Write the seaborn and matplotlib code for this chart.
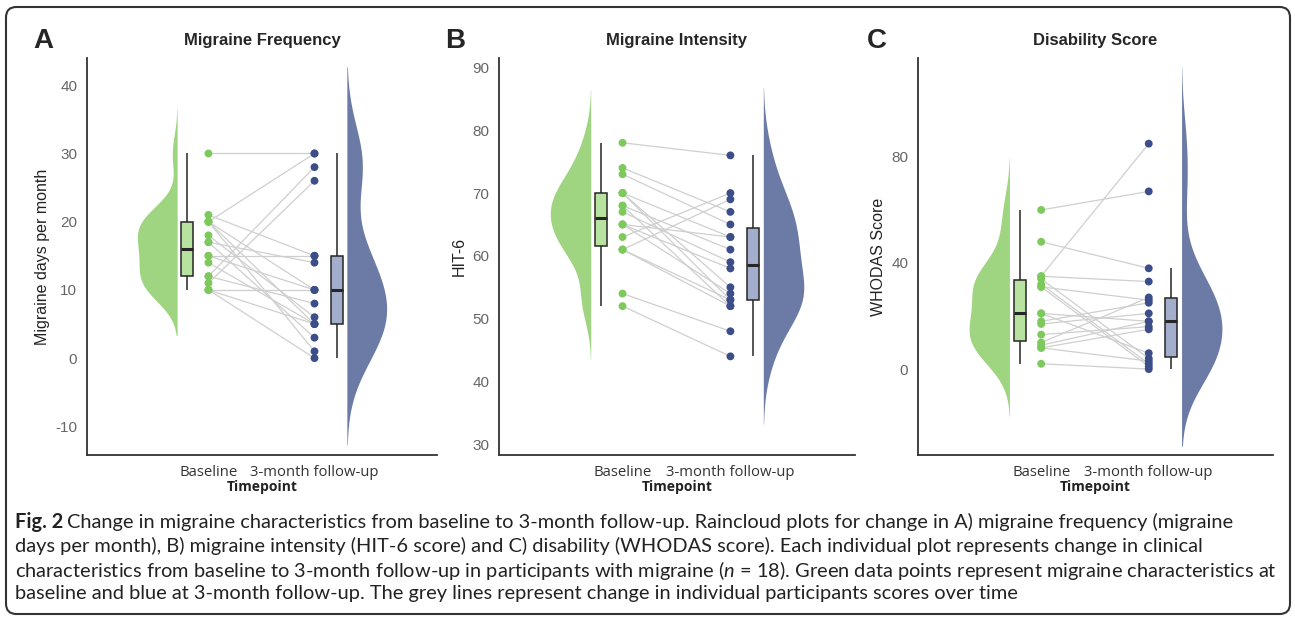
import numpy as np
import pandas as pd
import matplotlib
matplotlib.use("Agg")
import matplotlib.pyplot as plt
from matplotlib.patches import FancyBboxPatch
import seaborn as sns

sns.set_style("white")
plt.rcParams['font.family'] = ['Liberation Sans', 'DejaVu Sans']
plt.rcParams['mathtext.fontset'] = 'custom'
plt.rcParams['mathtext.rm'] = 'Lato'
plt.rcParams['mathtext.it'] = 'Lato:italic'
plt.rcParams['mathtext.bf'] = 'Lato:bold'

timepoints = ['Baseline', '3-month follow-up']

# participant-wise scores (same order in baseline and follow-up lists)
freq_base = [30, 20, 12, 11, 21, 20, 20, 20, 18, 17, 17, 15, 15, 14, 12, 10, 10, 10]
freq_follow = [30, 30, 28, 26, 15, 5, 1, 10, 6, 14, 3, 15, 10, 5, 8, 5, 0, 10]

hit_base = [78, 74, 73, 70, 70, 70, 68, 68, 67, 65, 65, 65, 63, 61, 61, 61, 54, 52]
hit_follow = [76, 67, 65, 63, 55, 53, 61, 52, 59, 63, 54, 58, 70, 69, 53, 52, 48, 44]

whodas_base = [60, 48, 35, 35, 34, 32, 31, 31, 21, 21, 18, 17, 13, 10, 9, 8, 8, 2]
whodas_follow = [67, 38, 85, 33, 4, 2, 1, 26, 18, 6, 25, 21, 16, 27, 18, 15, 3, 0]

panels = [
    dict(letter='A', title='Migraine Frequency', ylabel='Migraine days per month',
         base=freq_base, follow=freq_follow, ylim=(-14.2, 44), yticks=[-10, 0, 10, 20, 30, 40]),
    dict(letter='B', title='Migraine Intensity', ylabel='HIT-6',
         base=hit_base, follow=hit_follow, ylim=(28.3, 91.5), yticks=[30, 40, 50, 60, 70, 80, 90]),
    dict(letter='C', title='Disability Score', ylabel='WHODAS Score',
         base=whodas_base, follow=whodas_follow, ylim=(-32.4, 117.3), yticks=[0, 40, 80]),
]

violin_pal = {'Baseline': '#9fd480', '3-month follow-up': '#6c7ba5'}
box_pal = {'Baseline': '#b8e2a0', '3-month follow-up': '#a3aecd'}
dot_pal = {'Baseline': '#7dc95c', '3-month follow-up': '#3c4e8a'}

# x placement: dots at 1 / 2, boxes beside them, flat side of each half violin
# at 0.705 / 2.305 (seaborn puts the flat edge half a width away from its position)
point_x = {'Baseline': 1.0, '3-month follow-up': 2.0}
half_w = 0.375
violin_x = {'Baseline': 0.705 - half_w / 2, '3-month follow-up': 2.305 + half_w / 2}
box_x = {'Baseline': 0.80, '3-month follow-up': 2.21}
violin_width = half_w / (violin_x['3-month follow-up'] - violin_x['Baseline'])


def long_frame(base, follow):
    n = len(base)
    df = pd.DataFrame({
        'id': list(range(n)) * 2,
        'time': ['Baseline'] * n + ['3-month follow-up'] * n,
        'value': list(base) + list(follow),
    })
    df['x'] = df['time'].map(point_x)
    df['vpos'] = df['time'].map(violin_x)
    df['bpos'] = df['time'].map(box_x)
    return df


W, H = 1295, 622
fig = plt.figure(figsize=(W / 100, H / 100), dpi=100)

lefts = [87, 499, 918]
widths = [350, 356, 355]
top, bottom = 58, 455
letter_x = [43, 455, 877]

for p, left, width, lx in zip(panels, lefts, widths, letter_x):
    ax = fig.add_axes([left / W, 1 - bottom / H, width / W, (bottom - top) / H])
    df = long_frame(p['base'], p['follow'])

    sns.violinplot(data=df, x='vpos', y='value', hue='time', hue_order=timepoints,
                   palette=violin_pal, saturation=1, split=True, inner=None,
                   native_scale=True, density_norm='width', bw_adjust=0.95, cut=2.4,
                   width=violin_width, linewidth=0, legend=False, ax=ax)
    sns.boxplot(data=df, x='bpos', y='value', hue='time', hue_order=timepoints,
                palette=box_pal, saturation=1, native_scale=True, width=0.078,
                showfliers=False, linecolor='#262626', linewidth=1.1,
                medianprops=dict(linewidth=2.2), capprops=dict(visible=False),
                legend=False, ax=ax)
    sns.lineplot(data=df, x='x', y='value', units='id', estimator=None,
                 color='#cfcfcf', linewidth=0.9, legend=False, ax=ax, zorder=3)
    sns.scatterplot(data=df, x='x', y='value', hue='time', hue_order=timepoints,
                    palette=dot_pal, s=32, linewidth=0, legend=False, ax=ax, zorder=4)

    ax.set_xlim(-0.145, 3.155)
    ax.set_ylim(*p['ylim'])
    ax.set_xticks([1, 2])
    ax.set_xticklabels(timepoints, fontfamily='Open Sans', fontsize=10.7, color='#333333')
    ax.set_yticks(p['yticks'])
    ax.set_yticklabels([str(t) for t in p['yticks']], fontsize=11, color='#666666')
    ax.set_xlabel('Timepoint', fontfamily='Open Sans', fontweight='bold', fontsize=10,
                  color='#222222', labelpad=0)
    ax.set_ylabel(p['ylabel'], fontsize=11.5, color='#222222', labelpad=4)
    ax.set_title(p['title'], fontweight='bold', fontsize=12, pad=9)
    ax.tick_params(length=4, width=1, color='#333333', pad=3)
    sns.despine(ax=ax)
    for s in ('left', 'bottom'):
        ax.spines[s].set_color('#333333')
        ax.spines[s].set_linewidth(1.3)

    fig.text(lx / W, 1 - 41 / H, p['letter'], fontsize=20, fontweight='bold',
             ha='center', va='center')

caption = [
    "Change in migraine characteristics from baseline to 3-month follow-up. "
    "Raincloud plots for change in A) migraine frequency (migraine",
    "days per month), B) migraine intensity (HIT-6 score) and C) disability (WHODAS score). "
    "Each individual plot represents change in clinical",
    r"characteristics from baseline to 3-month follow-up in participants with migraine "
    r"($\mathit{n}$ = 18). Green data points represent migraine characteristics at",
    "baseline and blue at 3-month follow-up. The grey lines represent change in individual "
    "participants scores over time",
]
cap_size = 14.4
renderer = fig.canvas.get_renderer()
fig_label = fig.text(15 / W, 1 - 522 / H, 'Fig. 2', fontfamily='Lato', fontweight='bold',
                     fontsize=cap_size, color='#222222', ha='left', va='center')
label_w = fig_label.get_window_extent(renderer).width
for i, line in enumerate(caption):
    x0 = 15 + (label_w + 4 if i == 0 else 0)
    fig.text(x0 / W, 1 - (522 + 24 * i) / H, line, fontfamily='Lato', fontsize=cap_size,
             color='#222222', ha='left', va='center')

frame = FancyBboxPatch((6 / W, 8 / H), 1284 / W, 607 / H, transform=fig.transFigure,
                       boxstyle='round,pad=0,rounding_size=0.008', fill=False,
                       edgecolor='#333333', linewidth=1.5, mutation_aspect=W / H)
fig.patches.append(frame)

fig.savefig('out.png', dpi=100)
